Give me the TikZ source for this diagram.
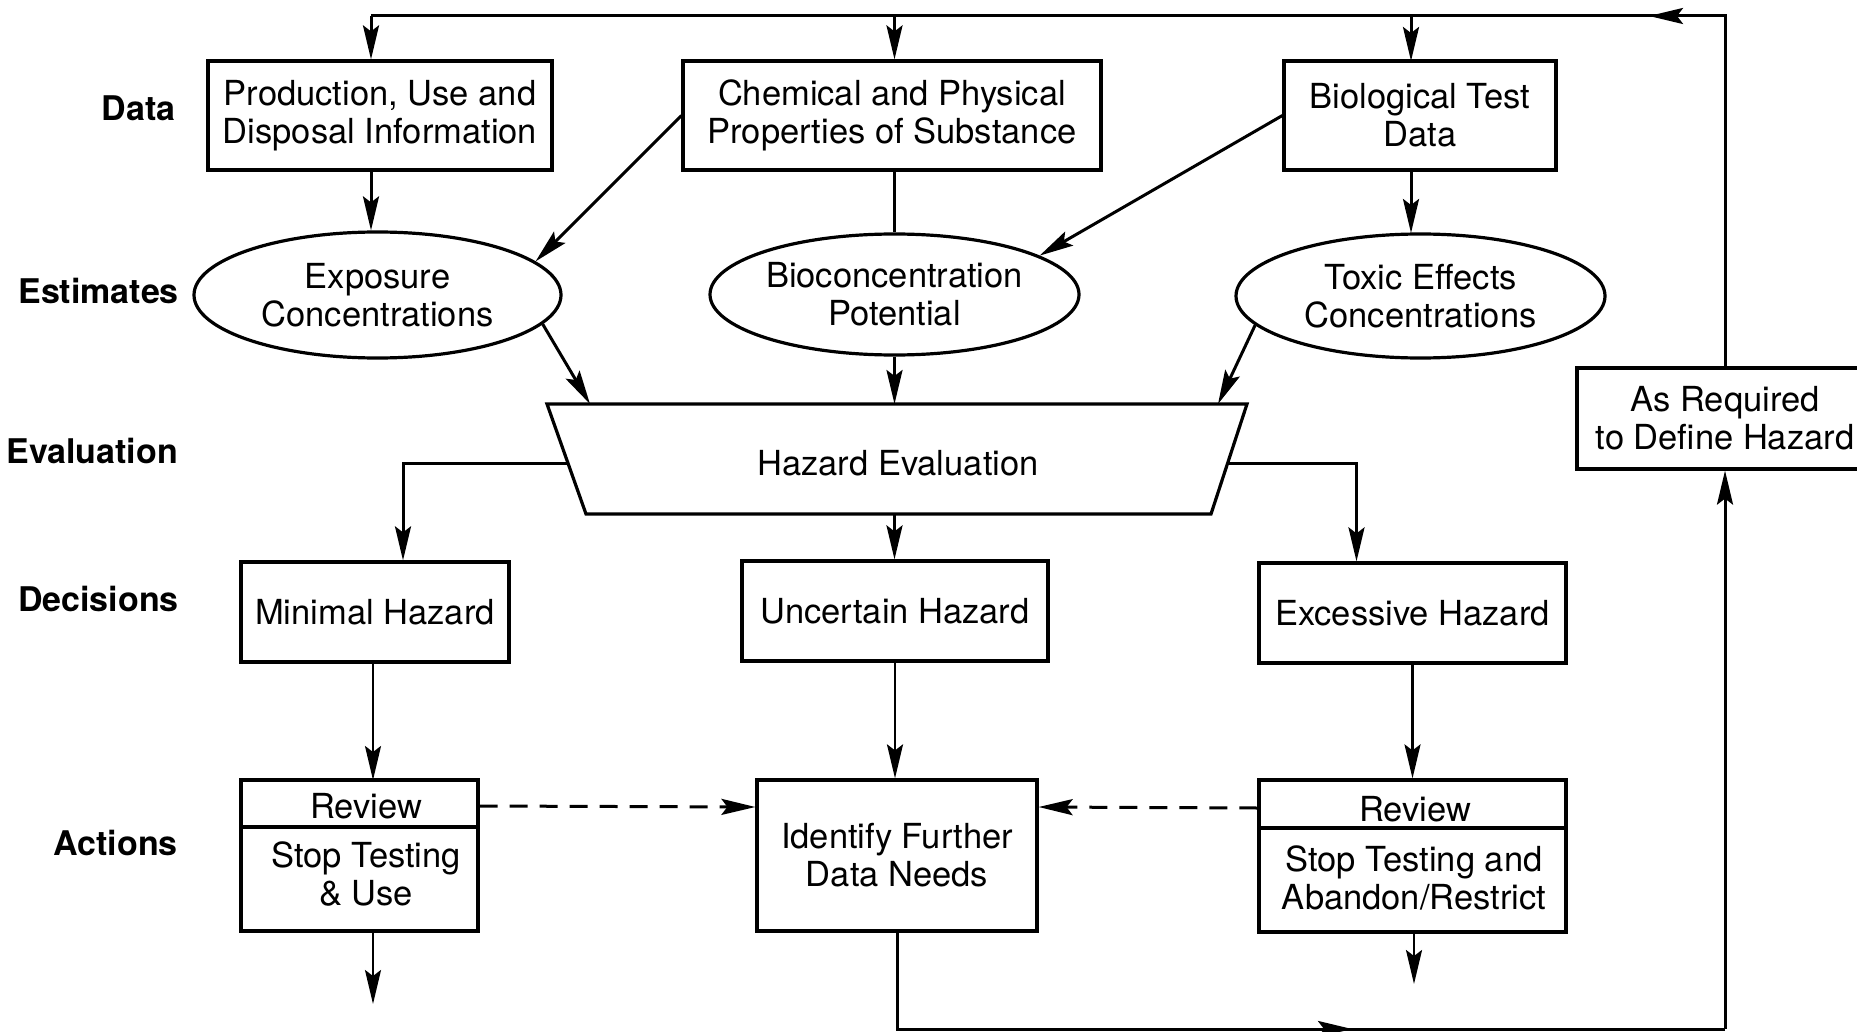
\documentclass[tikz,border=0pt]{standalone}
\usepackage{fontspec}
\setmainfont{TeX Gyre Heros}
\usetikzlibrary{arrows.meta,shapes.geometric}
\begin{document}
\begin{tikzpicture}[x=1pt,y=-1pt,
  every node/.style={font=\fontsize{34.5}{38}\selectfont, align=center, inner sep=0pt},
  box/.style={draw, line width=3.2pt, rectangle},
  oval/.style={draw, line width=3.2pt, ellipse},
  lbl/.style={font=\fontsize{34}{38}\selectfont\bfseries, anchor=east},
  plain/.style={line width=3pt},
  conn/.style={line width=3pt, -{Stealth[length=34pt,width=16pt,inset=6pt]}},
  thinconn/.style={line width=2.5pt, -{Stealth[length=34pt,width=16pt,inset=6pt]}},
  dashconn/.style={line width=3pt, dash pattern=on 18pt off 12pt,
    -{Stealth[length=34pt,width=16pt,inset=6pt]}},
]
\useasboundingbox (0,0) rectangle (1857,1032);

% row labels
\node[lbl] (lData) at (176,108) {Data};
\node[lbl] (lEst)  at (179,291) {Estimates};
\node[lbl] (lEval) at (178,451) {Evaluation};
\node[lbl] (lDec)  at (179,599) {Decisions};
\node[lbl] (lAct)  at (178,843) {Actions};

% data boxes
\node[box, minimum width=344, minimum height=109] (prod) at (380,115.5)
  {Production, Use and\\Disposal Information};
\node[box, minimum width=418, minimum height=109] (chem) at (892,115.5)
  {Chemical and Physical\\Properties of Substance};
\node[box, minimum width=272, minimum height=109] (bio) at (1420,115.5)
  {Biological Test\\Data};

% estimate ellipses
\node[oval, minimum width=367, minimum height=126] (expo) at (377.5,295)
  {Exposure\\Concentrations};
\node[oval, minimum width=369, minimum height=121] (bioc) at (894.5,294.5)
  {Bioconcentration\\Potential};
\node[oval, minimum width=369, minimum height=124] (tox) at (1420.5,296)
  {Toxic Effects\\Concentrations};

% hazard evaluation trapezium
\coordinate (hzTL) at (547,404);
\coordinate (hzTR) at (1247,404);
\coordinate (hzBR) at (1211,514);
\coordinate (hzBL) at (586,514);
\draw[line width=3.2pt, line join=miter] (hzTL) -- (hzTR) -- (hzBR) -- (hzBL) -- cycle;
\node (haz) at (898,463) {Hazard Evaluation};
\coordinate (hzL) at (568,463);
\coordinate (hzR) at (1228,463);
\coordinate (hzA) at (590,404);
\coordinate (hzB) at (894.5,404);
\coordinate (hzC) at (1218,404);
\coordinate (hzD) at (894.5,514);

% decisions
\node[box, minimum width=268, minimum height=100] (minh) at (375,612) {Minimal Hazard};
\node[box, minimum width=306, minimum height=100] (unch) at (895,611) {Uncertain Hazard};
\node[box, minimum width=307, minimum height=100] (exch) at (1412.5,613) {Excessive Hazard};

% actions
\node[box, minimum width=237, minimum height=151] (actL) at (359.5,855.5) {};
\draw[line width=3.2pt] ([yshift=28.5pt]actL.west) -- ([yshift=28.5pt]actL.east);
\node (revL) at (366,806) {Review};
\node (stopL) at (366,874.5) {Stop Testing\\\& Use};

\node[box, minimum width=280, minimum height=151] (ident) at (897,855.5)
  {Identify Further\\Data Needs};

\node[box, minimum width=307, minimum height=152] (actR) at (1412.5,856) {};
\draw[line width=3.2pt] ([yshift=28pt]actR.west) -- ([yshift=28pt]actR.east);
\node (revR) at (1415,809) {Review};
\node (stopR) at (1414,878) {Stop Testing and\\Abandon/Restrict};

% feedback box
\node[box, minimum width=296, minimum height=101] (asreq) at (1725,418.5)
  {As Required\\to Define Hazard};

% feedback loop along the top
\coordinate (topR) at (1725,16);
\coordinate (topL) at (371,16);
\coordinate (topArr) at (1649,16);
\draw[plain] (asreq.north) -- (topR) -- (topL);
\draw[conn] (topR) -- (topArr);
\draw[conn] (topL) -- (topL |- prod.north);
\draw[conn] (topL -| hzB) -- (hzB |- chem.north);
\draw[conn] (topL -| 1411,0) -- (1411,61);

% data to estimates
\draw[conn] (topL |- prod.south) -- (topL |- expo.north);
\draw[conn] (chem.west) -- (expo.12);
\draw[plain] (hzB |- chem.south) -- (bioc.north);
\draw[conn] (bio.west) -- (bioc.15);
\draw[conn] (1411,170) -- (1411,233);

% estimates to evaluation
\draw[conn] (expo.-10) -- (hzA);
\draw[conn] (bioc.south) -- (hzB);
\draw[conn] (tox.190) -- (hzC);

% evaluation to decisions
\draw[conn] (hzL) -| ([xshift=28pt]minh.north);
\draw[conn] (hzD) -- (hzD |- unch.north);
\draw[conn] (hzR) -| ([xshift=-56pt]exch.north);

% decisions to actions
\draw[thinconn] (373,662) -- (373,780);
\draw[thinconn] (unch.south) -- (unch.south |- ident.north);
\draw[thinconn] (exch.south) -- (exch.south |- actR.north);
\draw[dashconn] ([yshift=49.5pt]actL.east) -- ([yshift=48.5pt]ident.west);
\draw[dashconn] ([yshift=48pt]actR.west) -- ([yshift=48.5pt]ident.east);

% exits
\coordinate (outL) at (373,1004);
\coordinate (outR) at (1414,984);
\draw[thinconn] (373,931) -- (outL);
\draw[thinconn] (1414,932) -- (outR);

% feedback loop along the bottom
\coordinate (botR) at (1725,1029);
\coordinate (botArr) at (1352,1029);
\draw[plain] (ident.south) |- (botR);
\draw[conn] (ident.south |- botR) -- (botArr);
\draw[conn] (botR) -- (asreq.south);
\end{tikzpicture}
\end{document}
